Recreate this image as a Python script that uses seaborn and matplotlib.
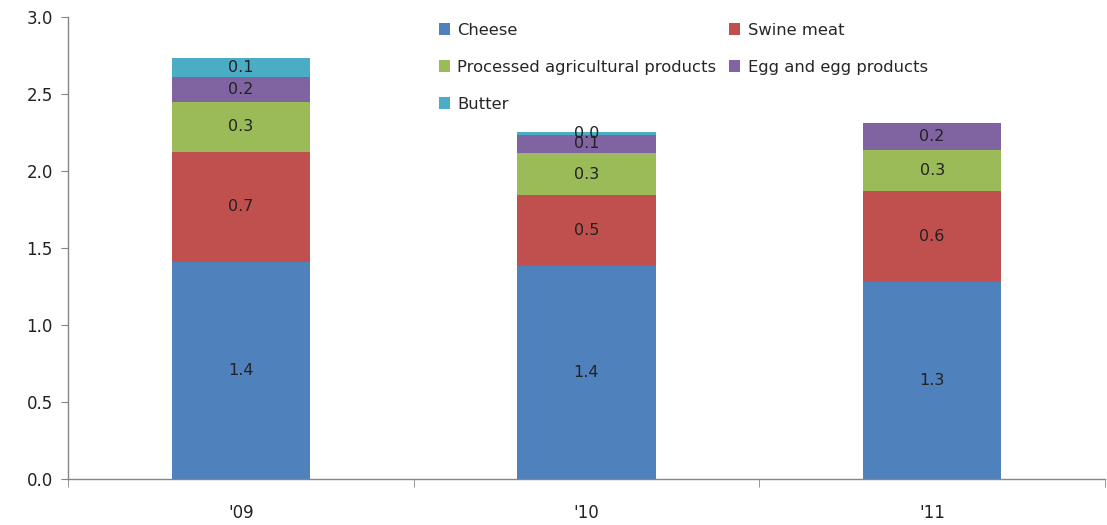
import numpy as np
import pandas as pd
import matplotlib
matplotlib.use("Agg")
import matplotlib.pyplot as plt
import seaborn as sns

# Export values by year (stacked)
years = ["'09", "'10", "'11"]
series = ["Cheese", "Swine meat", "Processed agricultural products",
          "Egg and egg products", "Butter"]
cheese = [1.41, 1.38, 1.28]
swine_meat = [0.716, 0.465, 0.591]
processed = [0.325, 0.271, 0.264]
egg = [0.162, 0.12, 0.178]
butter = [0.12, 0.02, 0.0]

values = [cheese, swine_meat, processed, egg, butter]
colors = ["#4F81BD", "#C0504D", "#9BBB59", "#8064A2", "#4BACC6"]

sns.set_style("white")
plt.rcParams["font.family"] = ["DejaVu Sans"]

fig = plt.figure(figsize=(11.07, 5.25), dpi=100)
ax = fig.add_axes([68 / 1107, 46 / 525, (1105 - 68) / 1107, (479 - 17) / 525])

bottom = np.zeros(len(years))
for name, vals, col in zip(series, values, colors):
    df = pd.DataFrame({"year": years, "value": vals})
    sns.barplot(data=df, x="year", y="value", color=col, width=0.4,
                bottom=bottom, label=name, ax=ax, errorbar=None,
                saturation=1, linewidth=0, legend=False)
    cont = ax.containers[-1]
    labels = ["%.1f" % v if v > 0 else "" for v in vals]
    ax.bar_label(cont, labels=labels, label_type="center",
                 fontsize=11.5, color="#222222")
    bottom = bottom + np.array(vals)

if ax.get_legend() is not None:
    ax.get_legend().remove()

ax.set_xlim(-0.5, 2.5)
ax.set_ylim(0, 3.0)
ax.set_yticks(np.arange(0, 3.01, 0.5))
ax.set_yticklabels(["%.1f" % t for t in np.arange(0, 3.01, 0.5)])
ax.set_xlabel("")
ax.set_ylabel("")

for s in ["top", "right"]:
    ax.spines[s].set_visible(False)
for s in ["left", "bottom"]:
    ax.spines[s].set_color("#868686")
    ax.spines[s].set_linewidth(1.0)

ax.tick_params(axis="y", direction="out", length=5, color="#868686",
               labelsize=12, labelcolor="#222222", left=True, pad=6)
ax.tick_params(axis="x", which="major", length=0, labelsize=12,
               labelcolor="#222222", pad=18)
ax.set_xticks([-0.5, 0.5, 1.5, 2.5], minor=True)
ax.tick_params(axis="x", which="minor", direction="out", length=6,
               color="#868686", bottom=True)

# legend laid out row by row: Cheese | Swine meat, Processed | Egg, Butter
handles = [c.patches[0] for c in ax.containers]
hmap = dict(zip(series, handles))
order = ["Cheese", "Processed agricultural products", "Butter",
         "Swine meat", "Egg and egg products"]
fig.legend([hmap[o] for o in order], order, ncol=2, loc="upper left",
           bbox_to_anchor=(432 / 1107, 1 - 16 / 525), frameon=False,
           fontsize=11.8, handlelength=0.7, handleheight=0.7,
           handletextpad=0.45, columnspacing=0.75, labelspacing=1.35,
           borderaxespad=0)

fig.savefig("out.png", dpi=100)
